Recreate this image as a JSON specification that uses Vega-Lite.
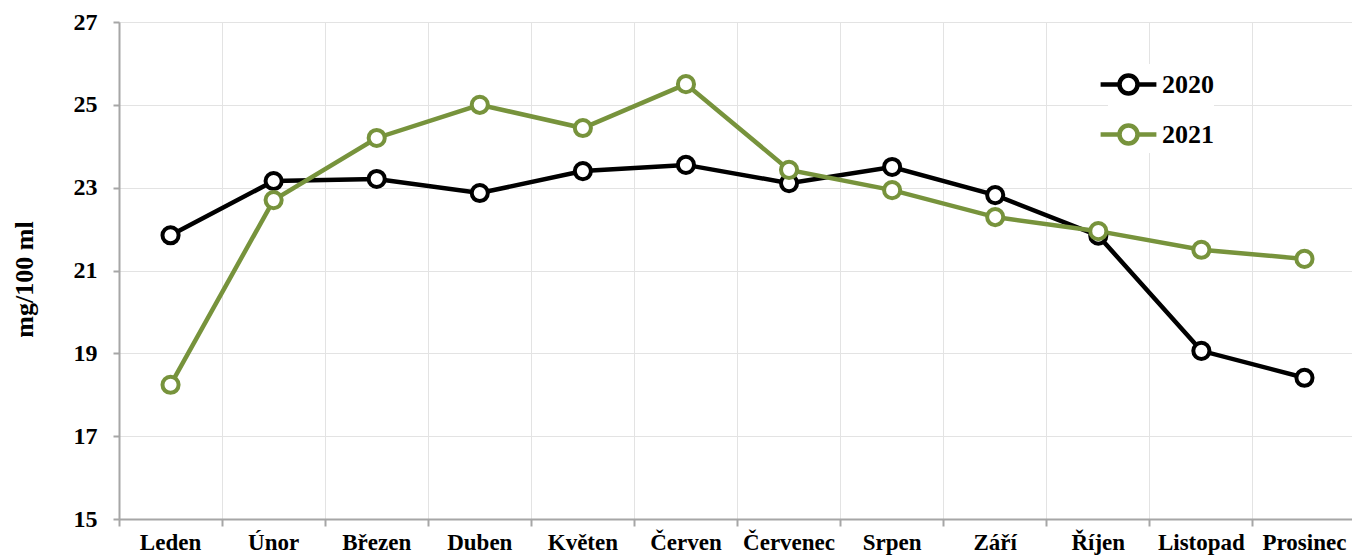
{
  "$schema": "https://vega.github.io/schema/vega-lite/v6.json",
  "autosize": "none",
  "padding": {"left": 119, "top": 22, "right": 0, "bottom": 36},
  "width": 1237,
  "height": 497,
  "background": "#ffffff",
  "config": {
    "view": {"stroke": null},
    "font": "Liberation Serif"
  },
  "data": {
    "values": [
      {"mesic": "Leden", "rok": "2020", "hodnota": 21.85},
      {"mesic": "Únor", "rok": "2020", "hodnota": 23.16},
      {"mesic": "Březen", "rok": "2020", "hodnota": 23.21},
      {"mesic": "Duben", "rok": "2020", "hodnota": 22.87},
      {"mesic": "Květen", "rok": "2020", "hodnota": 23.4},
      {"mesic": "Červen", "rok": "2020", "hodnota": 23.55},
      {"mesic": "Červenec", "rok": "2020", "hodnota": 23.11},
      {"mesic": "Srpen", "rok": "2020", "hodnota": 23.5},
      {"mesic": "Září", "rok": "2020", "hodnota": 22.82},
      {"mesic": "Říjen", "rok": "2020", "hodnota": 21.84},
      {"mesic": "Listopad", "rok": "2020", "hodnota": 19.06},
      {"mesic": "Prosinec", "rok": "2020", "hodnota": 18.41},
      {"mesic": "Leden", "rok": "2021", "hodnota": 18.24},
      {"mesic": "Únor", "rok": "2021", "hodnota": 22.7},
      {"mesic": "Březen", "rok": "2021", "hodnota": 24.2},
      {"mesic": "Duben", "rok": "2021", "hodnota": 25.0},
      {"mesic": "Květen", "rok": "2021", "hodnota": 24.44},
      {"mesic": "Červen", "rok": "2021", "hodnota": 25.5},
      {"mesic": "Červenec", "rok": "2021", "hodnota": 23.43},
      {"mesic": "Srpen", "rok": "2021", "hodnota": 22.94},
      {"mesic": "Září", "rok": "2021", "hodnota": 22.29},
      {"mesic": "Říjen", "rok": "2021", "hodnota": 21.95},
      {"mesic": "Listopad", "rok": "2021", "hodnota": 21.5},
      {"mesic": "Prosinec", "rok": "2021", "hodnota": 21.28}
    ]
  },
  "mark": {
    "type": "line",
    "strokeWidth": 4.5,
    "point": {"filled": false, "fill": "#ffffff", "size": 260, "strokeWidth": 4, "opacity": 1}
  },
  "encoding": {
    "x": {
      "field": "mesic",
      "type": "ordinal",
      "sort": ["Leden", "Únor", "Březen", "Duben", "Květen", "Červen", "Červenec", "Srpen", "Září", "Říjen", "Listopad", "Prosinec"],
      "scale": {"type": "band", "paddingInner": 0, "paddingOuter": 0},
      "axis": {
        "title": null,
        "bandPosition": 0,
        "labelAngle": 0,
        "labelFontSize": 23,
        "labelFontWeight": "bold",
        "labelColor": "#000000",
        "labelPadding": 5,
        "labelBaseline": "top",
        "grid": true,
        "gridColor": "#e3e3e3",
        "gridWidth": 1,
        "domainColor": "#a6a6a6",
        "domainWidth": 2,
        "tickColor": "#a6a6a6",
        "tickWidth": 2,
        "tickSize": 7
      }
    },
    "y": {
      "field": "hodnota",
      "type": "quantitative",
      "scale": {"domain": [15, 27], "nice": false, "zero": false},
      "axis": {
        "title": "mg/100 ml",
        "titleFontSize": 26,
        "titleFontWeight": "bold",
        "titleColor": "#000000",
        "titlePadding": 36,
        "titleY": 257,
        "values": [15, 17, 19, 21, 23, 25, 27],
        "labelFontSize": 24,
        "labelFontWeight": "bold",
        "labelColor": "#000000",
        "labelPadding": 16,
        "grid": true,
        "gridColor": "#e3e3e3",
        "gridWidth": 1,
        "domainColor": "#a6a6a6",
        "domainWidth": 2,
        "tickColor": "#a6a6a6",
        "tickWidth": 2,
        "tickSize": 6
      }
    },
    "color": {
      "field": "rok",
      "type": "nominal",
      "scale": {"domain": ["2020", "2021"], "range": ["#000000", "#77933c"]},
      "legend": {
        "title": null,
        "orient": "none",
        "legendX": 989,
        "legendY": 42,
        "symbolType": "M-1.55,0H-0.5M0.5,0H1.55M0.5,0A0.5,0.5 0 1 1 -0.5,0A0.5,0.5 0 1 1 0.5,0",
        "symbolSize": 1296,
        "symbolStrokeWidth": 4.5,
        "symbolFillColor": "#ffffff",
        "symbolOpacity": 1,
        "labelFontSize": 26,
        "labelFontWeight": "bold",
        "labelColor": "#000000",
        "labelOffset": 13,
        "rowPadding": 11,
        "fillColor": "#ffffff"
      }
    }
  }
}
